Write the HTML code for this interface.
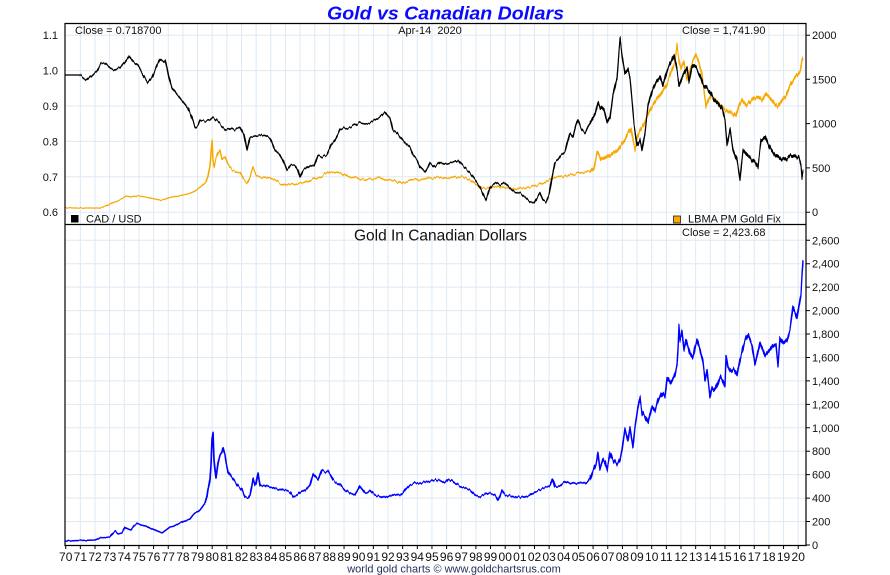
<!DOCTYPE html>
<html><head><meta charset="utf-8"><style>
html,body{margin:0;padding:0;background:#fff;width:890px;height:575px;overflow:hidden}
svg{display:block}
text{font-family:"Liberation Sans",Arial,sans-serif;fill:#111}
</style></head><body>
<svg width="890" height="575" viewBox="0 0 890 575" xmlns="http://www.w3.org/2000/svg">
<defs>
<clipPath id="ct"><rect x="65" y="23" width="741" height="201"/></clipPath>
<clipPath id="cb"><rect x="65" y="224" width="741" height="321"/></clipPath>
<filter id="j1" filterUnits="userSpaceOnUse" x="0" y="0" width="890" height="575" color-interpolation-filters="sRGB">
 <feTurbulence type="fractalNoise" baseFrequency="0.55 0.02" numOctaves="1" seed="3" result="t"/>
 <feColorMatrix in="t" type="matrix" values="0 0 0 0 0.5  0 1 0 0 0  0 0 0 0 0.5  0 0 0 0 1" result="m"/>
 <feDisplacementMap in="SourceGraphic" in2="m" scale="5" xChannelSelector="R" yChannelSelector="G"/>
</filter>
<filter id="j2" filterUnits="userSpaceOnUse" x="0" y="0" width="890" height="575" color-interpolation-filters="sRGB">
 <feTurbulence type="fractalNoise" baseFrequency="0.6 0.02" numOctaves="1" seed="11" result="t"/>
 <feColorMatrix in="t" type="matrix" values="0 0 0 0 0.5  0 1 0 0 0  0 0 0 0 0.5  0 0 0 0 1" result="m"/>
 <feDisplacementMap in="SourceGraphic" in2="m" scale="7" xChannelSelector="R" yChannelSelector="G" result="d"/>
 <feMorphology in="d" operator="dilate" radius="0 1"/>
</filter>
<filter id="j0" filterUnits="userSpaceOnUse" x="0" y="0" width="890" height="575" color-interpolation-filters="sRGB">
 <feTurbulence type="fractalNoise" baseFrequency="0.4 0.03" numOctaves="1" seed="7" result="t"/>
 <feColorMatrix in="t" type="matrix" values="0 0 0 0 0.5  0 1 0 0 0  0 0 0 0 0.5  0 0 0 0 1" result="m"/>
 <feDisplacementMap in="SourceGraphic" in2="m" scale="2" xChannelSelector="R" yChannelSelector="G"/>
</filter>
</defs>
<rect x="0" y="0" width="890" height="575" fill="#fff"/>
<!-- vertical grid -->
<path stroke="#dde9f5" stroke-width="1" fill="none" d="M80.35 23V545M95 23V545M109.65 23V545M124.3 23V545M138.95 23V545M153.6 23V545M168.25 23V545M182.9 23V545M197.55 23V545M212.2 23V545M226.85 23V545M241.5 23V545M256.15 23V545M270.8 23V545M285.45 23V545M300.1 23V545M314.75 23V545M329.4 23V545M344.05 23V545M358.7 23V545M373.35 23V545M388 23V545M402.65 23V545M417.3 23V545M431.95 23V545M446.6 23V545M461.25 23V545M475.9 23V545M490.55 23V545M505.2 23V545M519.85 23V545M534.5 23V545M549.15 23V545M563.8 23V545M578.45 23V545M593.1 23V545M607.75 23V545M622.4 23V545M637.05 23V545M651.7 23V545M666.35 23V545M681 23V545M695.65 23V545M710.3 23V545M724.95 23V545M739.6 23V545M754.25 23V545M768.9 23V545M783.55 23V545M798.2 23V545"/>
<!-- horizontal grid -->
<path stroke="#dde9f5" stroke-width="1" fill="none" d="M65 35.2H806M65 70.6H806M65 106H806M65 141.4H806M65 176.8H806M65 212.2H806M65 521.56H806M65 498.12H806M65 474.68H806M65 451.24H806M65 427.8H806M65 404.36H806M65 380.92H806M65 357.48H806M65 334.04H806M65 310.6H806M65 287.16H806M65 263.72H806M65 240.28H806"/>

<!-- top series -->
<g clip-path="url(#ct)" fill="none" stroke-linejoin="round">
<g stroke="#f7a900">
<polyline stroke-width="1.3" filter="url(#j0)" points="65,208 100,208 106,206 112,203 118,201 123,198 126,196 131,197 135,196 140,196 145,197 150,198 155,199 160,200 163,200 168,198 172,197 178,196 183,195 188,194 193,192 197,190 202,186 206,182"/>
<polyline stroke-width="1.5" filter="url(#j1)" points="206,182 208,176 210,165 212,140 213,160 214,167 216,158 218,153 220,150 222,160 225,157 228,165 232,170 236,172 240,173 244,180 247,183 250,177 253,168 256,175 260,177 265,177 270,178 275,180 280,183 285,185 290,184 295,184 300,183 305,182 310,180 315,178 320,177 325,174 330,172 335,172 340,173 345,175 350,177 358,178 365,180 372,179 380,178 385,180 390,180 395,181 400,183 405,182 410,181 415,180 420,180 425,179 430,178 435,178 440,177 445,178 450,178 455,177 460,177 465,178 470,180 475,184 480,187 485,188 490,188 495,187 500,187 505,188 510,188 515,189 520,188 525,188 530,187 535,186 540,184 545,182 550,180 555,178 560,177 565,176 570,175 575,174 580,173 585,172 590,171"/>
<polyline stroke-width="1.1" filter="url(#j2)" points="590,171 594,168 597,152 599,155 601,160 605,158 610,155 615,152 618,150 621,145 625,140 628,133 631,128 633,140 635,150 637,138 640,130 643,125 646,118 650,110 653,105 656,100 660,95 663,90 666,86 669,78 672,70 675,62 677,45 679,60 681,68 684,62 687,80 690,70 693,60 696,55 699,62 702,75 704,90 706,107 709,98 712,96 715,100 718,102 721,106 725,110 729,112 733,114 736,116 739,105 742,100 746,105 750,102 754,98 758,97 762,100 766,94 770,98 775,104 778,107 782,100 786,96 790,85 794,78 797,75 800,72 801,67 802,60 803,58"/>
</g>
<g stroke="#000">
<polyline stroke-width="1.3" points="65,75 80,75"/>
<polyline stroke-width="1.5" filter="url(#j1)" points="80,75 84,78 87,80 92,75 97,70 101,63 105,63 110,68 115,70 120,68 125,62 129,56 133,62 138,66 143,75 148,83 152,78 156,68 160,59 163,62 165,60 167,68 169,78 172,88 176,93 180,98 184,103 188,108 192,118 195,127 198,125 200,120 205,121 210,120 213,117 218,122 222,126 226,130 230,128 235,130 240,127 244,135 247,150 250,137 255,136 260,135 265,136 270,138 275,150 280,155 283,160 287,170 291,165 295,165 298,170 300,177 303,170 306,168 310,165 314,166 318,155 322,157 327,155 331,145 335,140 340,130 345,128 350,127 355,125 360,123 365,124 370,123 375,120 380,117 385,112 388,116 390,118 393,130 397,133 400,137 405,143 410,147 413,155 417,160 420,167 425,172 428,168 430,163 435,167 440,162 445,164 450,163 455,162 458,160 462,165 467,170 470,173 475,180 480,187 483,194 486,200 490,188 495,183 500,185 505,183 510,188 515,192 520,193 525,197 530,202 534,203 537,198 540,193 543,200 546,202 549,195 552,178 555,163 558,160 561,155 565,152 568,140 570,133 573,137 576,125 578,120 581,128 585,133 588,126 590,123"/>
<polyline stroke-width="1.1" filter="url(#j2)" points="590,123 595,115 598,103 600,107 604,110 607,122 610,118 613,95 617,78 620,38 622,55 625,73 628,70 630,78 632,100 634,125 637,145 640,140 642,150 645,132 648,105 650,98 653,88 656,82 660,76 663,85 667,70 671,62 674,55 677,70 679,85 683,75 687,68 689,82 692,65 696,68 700,75 703,85 707,88 710,92 714,100 718,103 722,108 725,120 727,145 730,130 733,150 737,160 740,180 743,150 747,155 752,160 755,162 758,167 761,140 765,137 770,148 775,155 780,158 785,160 790,156 795,156 799,158 801,165 802,178 803,171"/>
</g>
</g>
<!-- bottom series -->
<g clip-path="url(#cb)" fill="none" stroke="#0000ff" stroke-linejoin="round">
<polyline stroke-width="1.5" filter="url(#j0)" points="65,541 95,540 100,538 110,537 113,533 115,531 118,534 122,533 125,527 128,529 131,530 134,526 137,523 141,525 145,526 150,528 155,530 160,532 162,533 166,530 170,527 175,526 180,523 185,521 190,519 193,515 195,513 198,512 200,510 203,506 205,503"/>
<polyline stroke-width="1.7" filter="url(#j1)" points="205,503 207,496 208,490 210,480 211,465 212,440 213,432 214,460 216,478 218,463 220,455 222,452 223,448 225,455 226,462 228,472 232,478 235,482 237,485 240,488 242,490 245,497 248,498 250,495 252,485 253,478 255,485 256,483 258,472 260,485 265,486 270,487 275,488 280,490 285,490 290,492 293,497 297,495 300,492 305,491 310,485 313,474 316,478 318,480 322,470 326,472 328,471 331,476 333,480 337,483 340,485 345,490 350,493 355,495 358,490 360,486 363,490 365,493 368,492 370,490 373,493 375,495 380,497 385,497 390,496 393,495 400,495 403,493 405,490 410,485 415,483 420,483 425,482 430,481 435,480 440,481 445,482 448,479 452,481 455,483 460,486 465,488 470,490 475,495 480,497 485,494 490,493 495,495 498,500 500,496 502,490 505,495 510,496 515,497 520,497 525,497 530,495 535,492 540,490 545,488 550,486 553,479 555,487 560,486 565,482 570,483 575,483 580,483 585,483 588,481 590,478"/>
<polyline stroke-width="1.3" filter="url(#j2)" points="590,478 593,470 596,464 598,453 600,468 603,460 605,462 607,470 610,453 613,460 617,463 620,460 622,450 625,430 628,440 630,428 633,447 635,427 638,407 640,398 642,413 645,417 648,423 650,415 652,407 655,410 658,400 662,393 665,397 667,378 670,383 672,380 675,375 677,365 678,350 679,325 680,340 682,332 684,350 686,340 690,353 693,358 695,347 697,340 700,350 703,362 705,380 707,370 710,397 712,387 715,390 718,383 720,377 723,382 725,387 726,356 728,368 731,372 734,370 737,375 740,360 743,348 745,340 748,335 750,340 752,345 755,365 758,352 760,343 765,355 770,350 773,345 776,345 778,365 780,338 783,343 787,340 790,330 793,307 795,312 797,317 799,305 801,295 802,275 803,261"/>
</g>

<!-- frames -->
<path stroke="#000" stroke-width="1.2" fill="none" d="M65 23.5H806V545.5H65ZM65 224.5H806"/>
<!-- right ticks -->
<path stroke="#000" stroke-width="1" fill="none" d="M806 35.2h4M806 79.3h4M806 123.6h4M806 167.9h4M806 212.2h4M806 545h4M806 521.56h4M806 498.12h4M806 474.68h4M806 451.24h4M806 427.8h4M806 404.36h4M806 380.92h4M806 357.48h4M806 334.04h4M806 310.6h4M806 287.16h4M806 263.72h4M806 240.28h4"/>
<!-- bottom ticks -->
<path stroke="#000" stroke-width="1" fill="none" d="M65.7 545v4M80.35 545v4M95 545v4M109.65 545v4M124.3 545v4M138.95 545v4M153.6 545v4M168.25 545v4M182.9 545v4M197.55 545v4M212.2 545v4M226.85 545v4M241.5 545v4M256.15 545v4M270.8 545v4M285.45 545v4M300.1 545v4M314.75 545v4M329.4 545v4M344.05 545v4M358.7 545v4M373.35 545v4M388 545v4M402.65 545v4M417.3 545v4M431.95 545v4M446.6 545v4M461.25 545v4M475.9 545v4M490.55 545v4M505.2 545v4M519.85 545v4M534.5 545v4M549.15 545v4M563.8 545v4M578.45 545v4M593.1 545v4M607.75 545v4M622.4 545v4M637.05 545v4M651.7 545v4M666.35 545v4M681 545v4M695.65 545v4M710.3 545v4M724.95 545v4M739.6 545v4M754.25 545v4M768.9 545v4M783.55 545v4M798.2 545v4"/>

<!-- title -->
<text x="445.5" y="19.5" text-anchor="middle" font-size="18" font-weight="bold" font-style="italic" style="fill:#0a0aff" textLength="237" lengthAdjust="spacingAndGlyphs">Gold vs Canadian Dollars</text>
<text x="75" y="34" font-size="11">Close = 0.718700</text>
<text x="430" y="34" font-size="11" text-anchor="middle" xml:space="preserve">Apr-14  2020</text>
<text x="682" y="34" font-size="11">Close = 1,741.90</text>
<text x="440.5" y="240.5" font-size="16" text-anchor="middle" textLength="173" lengthAdjust="spacingAndGlyphs">Gold In Canadian Dollars</text>
<text x="682" y="236" font-size="11">Close = 2,423.68</text>

<!-- legends -->
<rect x="71" y="215" width="7.5" height="7.5" fill="#000"/>
<text x="86" y="222.5" font-size="11">CAD / USD</text>
<rect x="673.5" y="216" width="7" height="7" fill="#f7a900" stroke="#222" stroke-width="0.8"/>
<text x="688" y="222.5" font-size="11">LBMA PM Gold Fix</text>

<!-- left axis labels -->
<g font-size="11" text-anchor="end">
<text x="58" y="39.2">1.1</text>
<text x="58" y="74.6">1.0</text>
<text x="58" y="110">0.9</text>
<text x="58" y="145.4">0.8</text>
<text x="58" y="180.8">0.7</text>
<text x="58" y="216.2">0.6</text>
</g>
<!-- right axis labels -->
<g font-size="11">
<text x="812" y="39.2">2000</text>
<text x="812" y="83.3">1500</text>
<text x="812" y="127.6">1000</text>
<text x="812" y="171.9">500</text>
<text x="812" y="216.2">0</text>
<text x="812" y="244.3">2,600</text>
<text x="812" y="267.7">2,400</text>
<text x="812" y="291.2">2,200</text>
<text x="812" y="314.6">2,000</text>
<text x="812" y="338">1,800</text>
<text x="812" y="361.5">1,600</text>
<text x="812" y="384.9">1,400</text>
<text x="812" y="408.4">1,200</text>
<text x="812" y="431.8">1,000</text>
<text x="812" y="455.2">800</text>
<text x="812" y="478.7">600</text>
<text x="812" y="502.1">400</text>
<text x="812" y="525.6">200</text>
<text x="812" y="549">0</text>
</g>
<!-- year labels -->
<g font-size="12" text-anchor="middle">
<text x="65.7" y="561">70</text><text x="80.35" y="561">71</text><text x="95" y="561">72</text><text x="109.65" y="561">73</text><text x="124.3" y="561">74</text><text x="138.95" y="561">75</text><text x="153.6" y="561">76</text><text x="168.25" y="561">77</text><text x="182.9" y="561">78</text><text x="197.55" y="561">79</text><text x="212.2" y="561">80</text><text x="226.85" y="561">81</text><text x="241.5" y="561">82</text><text x="256.15" y="561">83</text><text x="270.8" y="561">84</text><text x="285.45" y="561">85</text><text x="300.1" y="561">86</text><text x="314.75" y="561">87</text><text x="329.4" y="561">88</text><text x="344.05" y="561">89</text><text x="358.7" y="561">90</text><text x="373.35" y="561">91</text><text x="388" y="561">92</text><text x="402.65" y="561">93</text><text x="417.3" y="561">94</text><text x="431.95" y="561">95</text><text x="446.6" y="561">96</text><text x="461.25" y="561">97</text><text x="475.9" y="561">98</text><text x="490.55" y="561">99</text><text x="505.2" y="561">00</text><text x="519.85" y="561">01</text><text x="534.5" y="561">02</text><text x="549.15" y="561">03</text><text x="563.8" y="561">04</text><text x="578.45" y="561">05</text><text x="593.1" y="561">06</text><text x="607.75" y="561">07</text><text x="622.4" y="561">08</text><text x="637.05" y="561">09</text><text x="651.7" y="561">10</text><text x="666.35" y="561">11</text><text x="681" y="561">12</text><text x="695.65" y="561">13</text><text x="710.3" y="561">14</text><text x="724.95" y="561">15</text><text x="739.6" y="561">16</text><text x="754.25" y="561">17</text><text x="768.9" y="561">18</text><text x="783.55" y="561">19</text><text x="798.2" y="561">20</text>
</g>
<text x="454" y="572.5" font-size="11" text-anchor="middle" style="fill:#24305e">world gold charts © www.goldchartsrus.com</text>
</svg>
</body></html>
